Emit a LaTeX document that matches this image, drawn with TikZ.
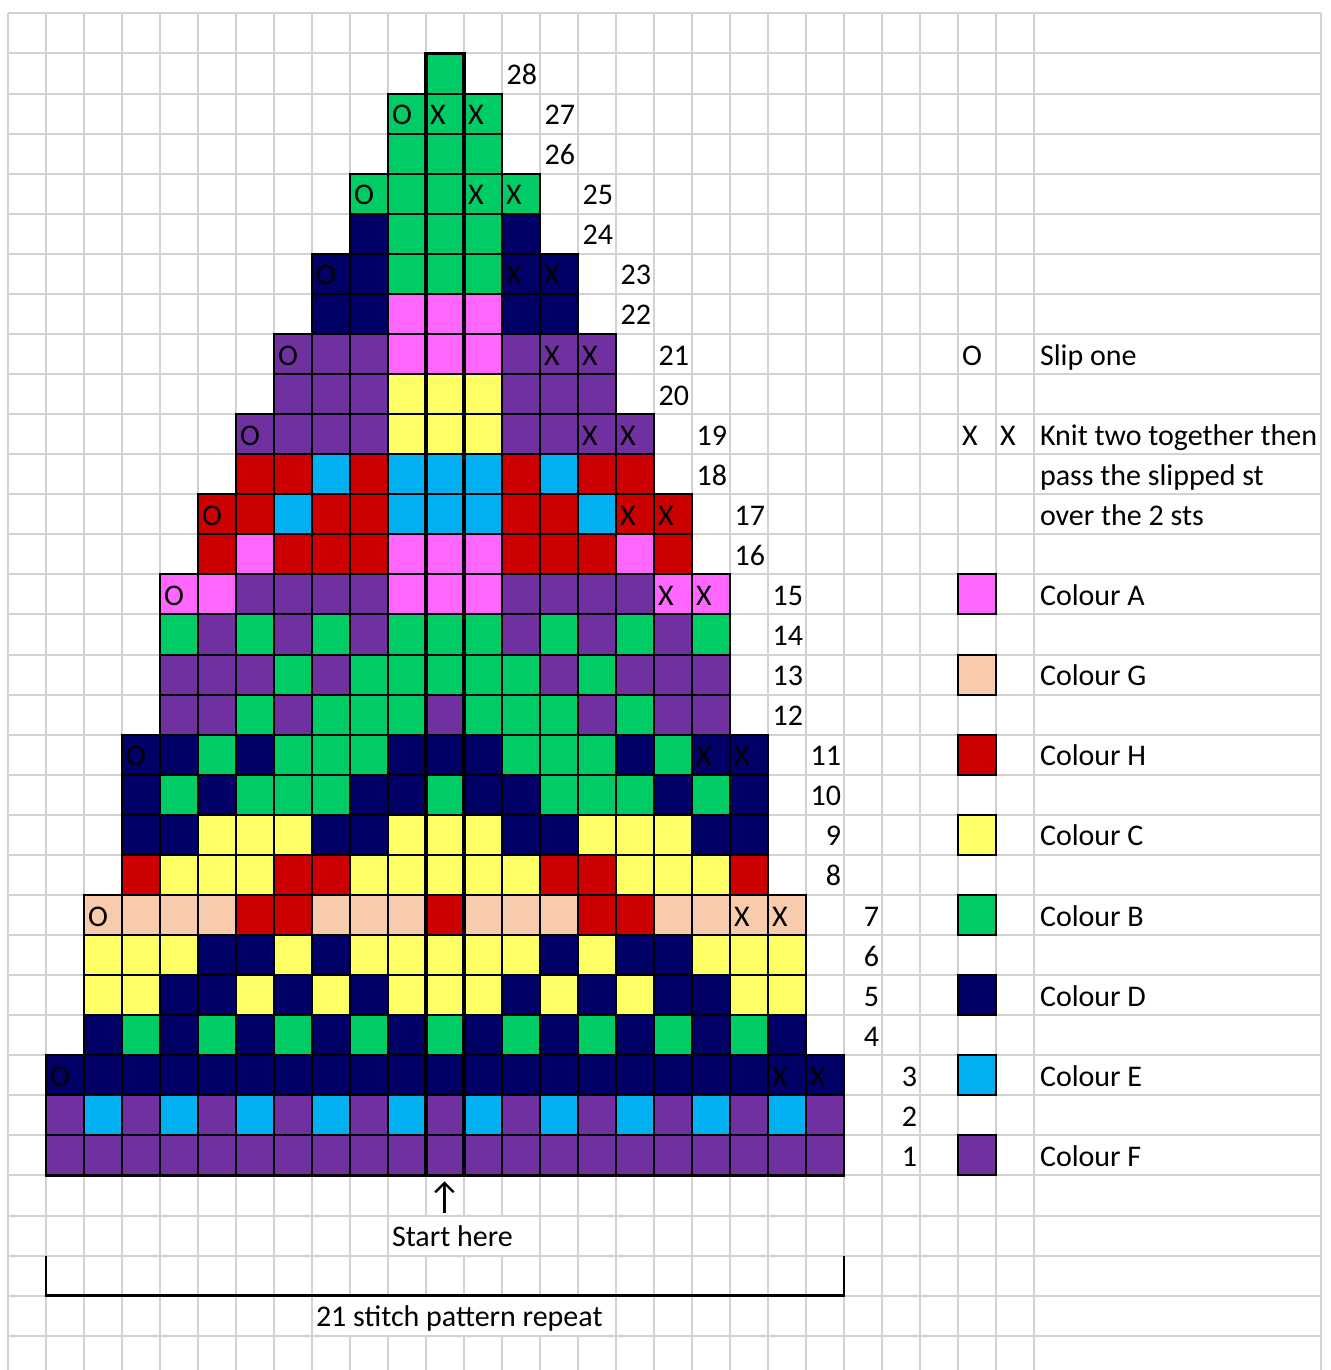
\documentclass[tikz,border=0pt]{standalone}
\usepackage{fontspec}
\setmainfont{Carlito}
\newfontfamily\kArrowFont{DejaVu Sans}
\definecolor{colA}{HTML}{FF66FF}
\definecolor{colB}{HTML}{00CC66}
\definecolor{colC}{HTML}{FFFF66}
\definecolor{colD}{HTML}{000066}
\definecolor{colE}{HTML}{00B0F0}
\definecolor{colF}{HTML}{7030A0}
\definecolor{colG}{HTML}{F8CBAD}
\definecolor{colH}{HTML}{CC0000}
\definecolor{gridgray}{RGB}{210,210,210}
\tikzset{
  celltext/.style={font=\fontsize{30}{36}\selectfont, inner sep=0pt, outer sep=0pt},
  lefttext/.style={celltext, anchor=base west},
  righttext/.style={celltext, anchor=base east},
  cellbox/.style={draw=black, line width=2pt},
  gridline/.style={draw=gridgray, line width=2pt},
}
% row n top = 53.5 + (28-n)*40.07 ; column c left = 46 + 38 c
\newcommand\kChartRow[3]{%
  \pgfmathsetmacro\kRowTop{53.5+(28-#1)*40.07}%
  \foreach \col [count=\i from 0] in {#3} {%
    \pgfmathsetmacro\kCellX{46+38*(#2+\i)}%
    \filldraw[cellbox, fill=col\col] (\kCellX,\kRowTop) rectangle ++(38,40.07);
  }%
  \pgfmathsetmacro\kLabX{46+38*(23-#2)-3}%
  \node[righttext] (lab#1) at (\kLabX,\kRowTop+31.07) {#1};
}
\newcommand\kDecRow[3]{%
  \pgfmathsetmacro\kRowBase{53.5+(28-#1)*40.07+31.07}%
  \node[lefttext] (slip#1) at ({46+38*#2+4},\kRowBase) {O};
  \node[lefttext] (ktwoa#1) at ({46+38*(#3-1)+4},\kRowBase) {X};
  \node[lefttext] (ktwob#1) at ({46+38*#3+4},\kRowBase) {X};
}
\newcommand\kLegendRow[3]{%
  \pgfmathsetmacro\kRowTop{53.5+(28-#1)*40.07}%
  \filldraw[cellbox, fill=col#2] (958,\kRowTop) rectangle ++(38,40.07);
  \node[lefttext] (leg#2) at (1040,\kRowTop+31.07) {#3};
}
\begin{document}
\begin{tikzpicture}[x=1pt,y=-1pt]
\useasboundingbox (0,0) rectangle (1330,1370);
\fill[white] (0,0) rectangle (1330,1370);
% spreadsheet grid
\foreach \k in {0,...,27} \draw[gridline] ({8+38*\k},13) -- ({8+38*\k},1372);
\draw[gridline] (1321,13) -- (1321,1372);
\draw[gridline] (8,13) -- (1321,13);
\foreach \k in {0,...,32} \draw[gridline] (8,{53.5+40.07*\k}) -- (1321,{53.5+40.07*\k});
% gridlines hidden under overflowing text
\fill[white] (389.2,1216.6) rectangle (538.8,1254.5);
\fill[white] (313.2,1296.8) rectangle (614.8,1334.6);
% chart
\kChartRow{28}{10}{B}
\kChartRow{27}{9}{B,B,B}
\kChartRow{26}{9}{B,B,B}
\kChartRow{25}{8}{B,B,B,B,B}
\kChartRow{24}{8}{D,B,B,B,D}
\kChartRow{23}{7}{D,D,B,B,B,D,D}
\kChartRow{22}{7}{D,D,A,A,A,D,D}
\kChartRow{21}{6}{F,F,F,A,A,A,F,F,F}
\kChartRow{20}{6}{F,F,F,C,C,C,F,F,F}
\kChartRow{19}{5}{F,F,F,F,C,C,C,F,F,F,F}
\kChartRow{18}{5}{H,H,E,H,E,E,E,H,E,H,H}
\kChartRow{17}{4}{H,H,E,H,H,E,E,E,H,H,E,H,H}
\kChartRow{16}{4}{H,A,H,H,H,A,A,A,H,H,H,A,H}
\kChartRow{15}{3}{A,A,F,F,F,F,A,A,A,F,F,F,F,A,A}
\kChartRow{14}{3}{B,F,B,F,B,F,B,B,B,F,B,F,B,F,B}
\kChartRow{13}{3}{F,F,F,B,F,B,B,B,B,B,F,B,F,F,F}
\kChartRow{12}{3}{F,F,B,F,B,B,B,F,B,B,B,F,B,F,F}
\kChartRow{11}{2}{D,D,B,D,B,B,B,D,D,D,B,B,B,D,B,D,D}
\kChartRow{10}{2}{D,B,D,B,B,B,D,D,B,D,D,B,B,B,D,B,D}
\kChartRow{9}{2}{D,D,C,C,C,D,D,C,C,C,D,D,C,C,C,D,D}
\kChartRow{8}{2}{H,C,C,C,H,H,C,C,C,C,C,H,H,C,C,C,H}
\kChartRow{7}{1}{G,G,G,G,H,H,G,G,G,H,G,G,G,H,H,G,G,G,G}
\kChartRow{6}{1}{C,C,C,D,D,C,D,C,C,C,C,C,D,C,D,D,C,C,C}
\kChartRow{5}{1}{C,C,D,D,C,D,C,D,C,C,C,D,C,D,C,D,D,C,C}
\kChartRow{4}{1}{D,B,D,B,D,B,D,B,D,B,D,B,D,B,D,B,D,B,D}
\kChartRow{3}{0}{D,D,D,D,D,D,D,D,D,D,D,D,D,D,D,D,D,D,D,D,D}
\kChartRow{2}{0}{F,E,F,E,F,E,F,E,F,E,F,E,F,E,F,E,F,E,F,E,F}
\kChartRow{1}{0}{F,F,F,F,F,F,F,F,F,F,F,F,F,F,F,F,F,F,F,F,F}
% centre stitch column and lower edge
\draw[line width=3.5pt] (426,53.5) rectangle (464,1175.5);
\draw[line width=3pt] (45,1175.5) -- (845,1175.5);
% decrease marks
\kDecRow{27}{9}{11}
\kDecRow{25}{8}{12}
\kDecRow{23}{7}{13}
\kDecRow{21}{6}{14}
\kDecRow{19}{5}{15}
\kDecRow{17}{4}{16}
\kDecRow{15}{3}{17}
\kDecRow{11}{2}{18}
\kDecRow{7}{1}{19}
\kDecRow{3}{0}{20}
% key
\node[lefttext] (keyo) at (962,365.6) {O};
\node[lefttext] (slipone) at (1040,365.6) {Slip one};
\node[lefttext] (keyxa) at (962,445.8) {X};
\node[lefttext] (keyxb) at (1000,445.8) {X};
\node[lefttext] (knita) at (1040,445.8) {Knit two together then};
\node[lefttext] (knitb) at (1040,485.8) {pass the slipped st};
\node[lefttext] (knitc) at (1040,525.9) {over the 2 sts};
\kLegendRow{15}{A}{Colour A}
\kLegendRow{13}{G}{Colour G}
\kLegendRow{11}{H}{Colour H}
\kLegendRow{9}{C}{Colour C}
\kLegendRow{7}{B}{Colour B}
\kLegendRow{5}{D}{Colour D}
\kLegendRow{3}{E}{Colour E}
\kLegendRow{1}{F}{Colour F}
% start marker and repeat bracket
\node[font=\fontsize{38}{40}\selectfont, inner sep=0pt] (arrow) at (444.5,1197.5) {↑};
\node[lefttext] (start) at (392,1246.6) {Start here};
\coordinate (brl) at (46,1255.6);
\coordinate (brr) at (844,1255.6);
\draw[line width=2.5pt] (brl) -- ++(0,40.1) -| (brr);
\node[lefttext] (repeat) at (316,1326.7) {21 stitch pattern repeat};
\end{tikzpicture}
\end{document}
